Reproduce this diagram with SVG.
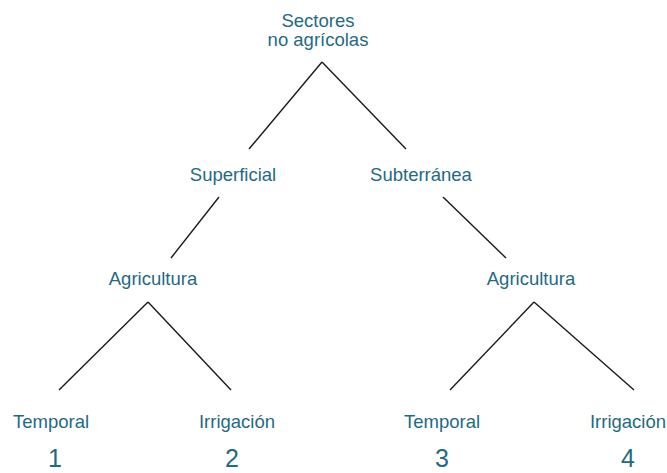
<svg xmlns="http://www.w3.org/2000/svg" width="667" height="473" viewBox="0 0 667 473">
<style>
text{font-family:"Liberation Sans",Arial,sans-serif;fill:#1f6a85;text-anchor:middle;font-size:18.5px}
.n{font-size:25px}
line{stroke:#1a1a1a;stroke-width:1.4}
</style>
<rect width="667" height="473" fill="#fff"/>
<g id="connectors">
<line x1="322" y1="62" x2="249" y2="149"/>
<line x1="322" y1="62" x2="406" y2="149"/>
<line x1="219" y1="197" x2="171" y2="258"/>
<line x1="443" y1="197" x2="506" y2="258"/>
<line x1="148" y1="302" x2="59" y2="390"/>
<line x1="148" y1="302" x2="231" y2="390"/>
<line x1="534" y1="302" x2="450" y2="390"/>
<line x1="534" y1="302" x2="634" y2="390"/>
</g>
<g id="root"><text x="318" y="27">Sectores</text><text x="318" y="46">no agrícolas</text></g>
<g id="superficial"><text x="233" y="181">Superficial</text></g>
<g id="subterranea"><text x="421" y="181">Subterránea</text></g>
<g id="agri1"><text x="153" y="285">Agricultura</text></g>
<g id="agri2"><text x="531" y="285">Agricultura</text></g>
<g id="t1"><text x="51" y="428">Temporal</text><text class="n" x="55" y="467">1</text></g>
<g id="i2"><text x="237" y="428">Irrigación</text><text class="n" x="232" y="467">2</text></g>
<g id="t3"><text x="442" y="428">Temporal</text><text class="n" x="442" y="467">3</text></g>
<g id="i4"><text x="628" y="428">Irrigación</text><text class="n" x="628" y="467">4</text></g>
</svg>
